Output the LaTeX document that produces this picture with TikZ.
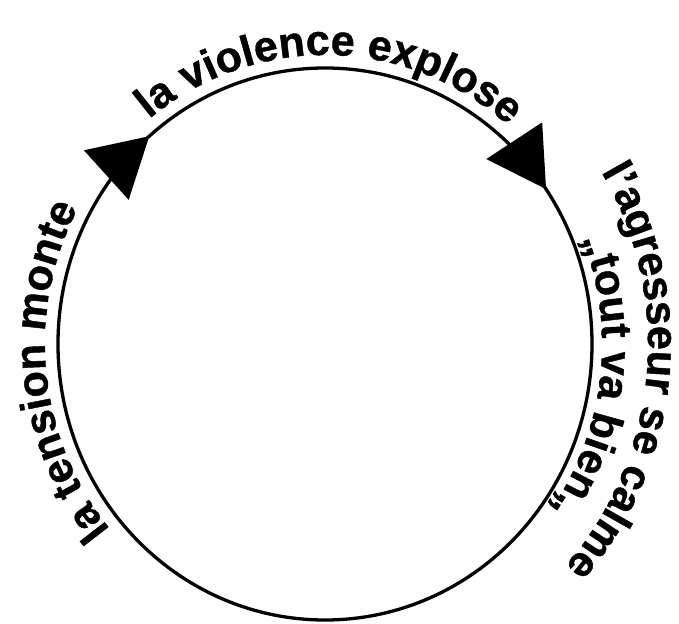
\documentclass[tikz,border=0pt]{standalone}
\usepackage{fontspec}
\setmainfont{Liberation Sans}[Ligatures=TeXOff, BoldFeatures={FakeBold=1}]
\usetikzlibrary{arrows.meta, decorations.markings, decorations.text}
\newcommand{\cyclefont}{\bfseries\fontsize{43}{51}\selectfont}
\tikzset{
	cycleline/.style={
			line width=3.3pt,
			draw=black
		},
	cycletip/.tip={Triangle[length=58pt, width=66pt]},
	cycletext/.style={
			decorate,
			decoration={text along path, text align=center, text={|\cyclefont|#1}}
		}
}

\begin{document}
\begin{tikzpicture}[x=1pt, y=1pt]
  \useasboundingbox (-325,-279) rectangle (354,344);

  % the cycle, run clockwise
  \draw[cycleline, postaction={decorate}, decoration={markings,
      mark=at position 0.637 with {\arrow{cycletip}},
      mark=at position 0.904 with {\arrow{cycletip}}}]
    (0:267 and 276) arc[start angle=360, end angle=0, x radius=267, y radius=276];

  % labels round the outside
  \path[cycletext={la violence explose}] (159:280 and 289)
    arc[start angle=159, end angle=19, x radius=280, y radius=289];
  \path[cycletext={la tension monte}] (256:280 and 289)
    arc[start angle=256, end angle=116, x radius=280, y radius=289];
  \path[cycletext={l’agresseur se calme}] (64.5:323 and 332)
    arc[start angle=64.5, end angle=-75.5, x radius=323, y radius=332];
  \path[cycletext={„tout va bien„}] (63:277 and 286)
    arc[start angle=63, end angle=-77, x radius=277, y radius=286];
\end{tikzpicture}
\end{document}
